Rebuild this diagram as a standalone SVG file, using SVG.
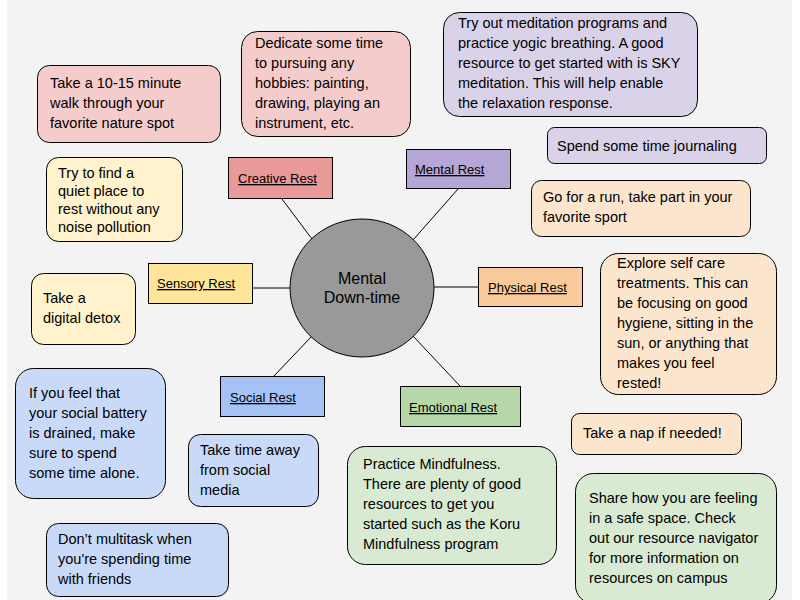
<svg xmlns="http://www.w3.org/2000/svg" width="800" height="600" viewBox="0 0 800 600">
<style>
text{font-family:"Liberation Sans",Arial,sans-serif;fill:#000}
.t{font-size:14.5px}
.lbl{font-size:13px;text-decoration:underline}
.hub{font-size:16px}
.card{stroke:#000;stroke-width:1}
.cat{stroke:#000;stroke-width:1}
.conn line{stroke:#000;stroke-width:1}
</style>
<rect x="0" y="0" width="800" height="600" fill="#ffffff"/>
<rect x="7" y="0" width="785" height="600" fill="#f3f3f3"/>
<g class="conn" id="connectors">
<line x1="282" y1="199" x2="312" y2="239"/>
<line x1="458" y1="189" x2="413" y2="240"/>
<line x1="253" y1="288" x2="290" y2="288"/>
<line x1="434" y1="287" x2="478" y2="287"/>
<line x1="274" y1="376" x2="312" y2="336"/>
<line x1="460" y1="386" x2="413" y2="336"/>
</g>
<g id="hub">
<ellipse cx="362" cy="288" rx="72" ry="69" fill="#999999" stroke="#000" stroke-width="1"/>
<text class="hub" x="362" y="284" text-anchor="middle">Mental</text>
<text class="hub" x="362" y="303" text-anchor="middle">Down-time</text>
</g>
<g id="creative-rest">
<rect class="cat" x="228.5" y="157.5" width="104" height="41" fill="#ea9999"/>
<text class="lbl" x="238" y="183">Creative Rest</text>
</g>
<g id="mental-rest">
<rect class="cat" x="406.5" y="149.5" width="104" height="39" fill="#b4a7d6"/>
<text class="lbl" x="415" y="174">Mental Rest</text>
</g>
<g id="sensory-rest">
<rect class="cat" x="148.5" y="263.5" width="104" height="40" fill="#ffe599"/>
<text class="lbl" x="157" y="288">Sensory Rest</text>
</g>
<g id="physical-rest">
<rect class="cat" x="478.5" y="267.5" width="104" height="39" fill="#f9cb9c"/>
<text class="lbl" x="488" y="292">Physical Rest</text>
</g>
<g id="social-rest">
<rect class="cat" x="220.5" y="376.5" width="104" height="40" fill="#a4c2f4"/>
<text class="lbl" x="230" y="402">Social Rest</text>
</g>
<g id="emotional-rest">
<rect class="cat" x="400.5" y="386.5" width="120" height="40" fill="#b6d7a8"/>
<text class="lbl" x="409" y="412">Emotional Rest</text>
</g>
<g id="walk">
<rect class="card" x="37.5" y="65.5" width="183" height="77" rx="12" fill="#f4cccc"/>
<text class="t" x="50" y="88">Take a 10-15 minute</text>
<text class="t" x="50" y="108">walk through your</text>
<text class="t" x="50" y="128">favorite nature spot</text>
</g>
<g id="hobbies">
<rect class="card" x="241.5" y="31.5" width="169" height="105" rx="16" fill="#f4cccc"/>
<text class="t" x="255" y="48">Dedicate some time</text>
<text class="t" x="255" y="68">to pursuing any</text>
<text class="t" x="255" y="88">hobbies: painting,</text>
<text class="t" x="255" y="108">drawing, playing an</text>
<text class="t" x="255" y="128">instrument, etc.</text>
</g>
<g id="meditation">
<rect class="card" x="443.5" y="12.5" width="254" height="104" rx="16" fill="#d9d2e9"/>
<text class="t" x="458" y="28">Try out meditation programs and</text>
<text class="t" x="458" y="48">practice yogic breathing. A good</text>
<text class="t" x="458" y="68">resource to get started with is SKY</text>
<text class="t" x="458" y="88">meditation. This will help enable</text>
<text class="t" x="458" y="108">the relaxation response.</text>
</g>
<g id="journaling">
<rect class="card" x="547.5" y="127.5" width="219" height="36" rx="7" fill="#d9d2e9"/>
<text class="t" x="557" y="151">Spend some time journaling</text>
</g>
<g id="run">
<rect class="card" x="531.5" y="180.5" width="219" height="56" rx="10" fill="#fce5cd"/>
<text class="t" x="543" y="202">Go for a run, take part in your</text>
<text class="t" x="543" y="222">favorite sport</text>
</g>
<g id="quiet">
<rect class="card" x="46.5" y="157.5" width="136" height="84" rx="12" fill="#fff2cc"/>
<text class="t" x="58" y="178">Try to find a</text>
<text class="t" x="58" y="196">quiet place to</text>
<text class="t" x="58" y="214">rest without any</text>
<text class="t" x="58" y="232">noise pollution</text>
</g>
<g id="detox">
<rect class="card" x="31.5" y="273.5" width="104" height="71" rx="12" fill="#fff2cc"/>
<text class="t" x="43" y="303">Take a</text>
<text class="t" x="43" y="323">digital detox</text>
</g>
<g id="self-care">
<rect class="card" x="600.5" y="253.5" width="176" height="141" rx="18" fill="#fce5cd"/>
<text class="t" x="617" y="268">Explore self care</text>
<text class="t" x="617" y="288">treatments. This can</text>
<text class="t" x="617" y="308">be focusing on good</text>
<text class="t" x="617" y="328">hygiene, sitting in the</text>
<text class="t" x="617" y="348">sun, or anything that</text>
<text class="t" x="617" y="368">makes you feel</text>
<text class="t" x="617" y="388">rested!</text>
</g>
<g id="battery">
<rect class="card" x="15.5" y="368.5" width="150" height="130" rx="18" fill="#c9daf8"/>
<text class="t" x="29" y="398">If you feel that</text>
<text class="t" x="29" y="418">your social battery</text>
<text class="t" x="29" y="438">is drained, make</text>
<text class="t" x="29" y="458">sure to spend</text>
<text class="t" x="29" y="478">some time alone.</text>
</g>
<g id="social-media">
<rect class="card" x="188.5" y="434.5" width="130" height="72" rx="12" fill="#c9daf8"/>
<text class="t" x="200" y="455">Take time away</text>
<text class="t" x="200" y="475">from social</text>
<text class="t" x="200" y="495">media</text>
</g>
<g id="multitask">
<rect class="card" x="46.5" y="523.5" width="182" height="73" rx="12" fill="#c9daf8"/>
<text class="t" x="58" y="544">Don’t multitask when</text>
<text class="t" x="58" y="564">you're spending time</text>
<text class="t" x="58" y="584">with friends</text>
</g>
<g id="mindfulness">
<rect class="card" x="347.5" y="446.5" width="209" height="118" rx="18" fill="#d9ead3"/>
<text class="t" x="363" y="469">Practice Mindfulness.</text>
<text class="t" x="363" y="489">There are plenty of good</text>
<text class="t" x="363" y="509">resources to get you</text>
<text class="t" x="363" y="529">started such as the Koru</text>
<text class="t" x="363" y="549">Mindfulness program</text>
</g>
<g id="nap">
<rect class="card" x="571.5" y="413.5" width="170" height="41" rx="8" fill="#fce5cd"/>
<text class="t" x="583" y="438">Take a nap if needed!</text>
</g>
<g id="share">
<rect class="card" x="575.5" y="473.5" width="201" height="130" rx="18" fill="#d9ead3"/>
<text class="t" x="589" y="503">Share how you are feeling</text>
<text class="t" x="589" y="523">in a safe space. Check</text>
<text class="t" x="589" y="543">out our resource navigator</text>
<text class="t" x="589" y="563">for more information on</text>
<text class="t" x="589" y="583">resources on campus</text>
</g>
</svg>
